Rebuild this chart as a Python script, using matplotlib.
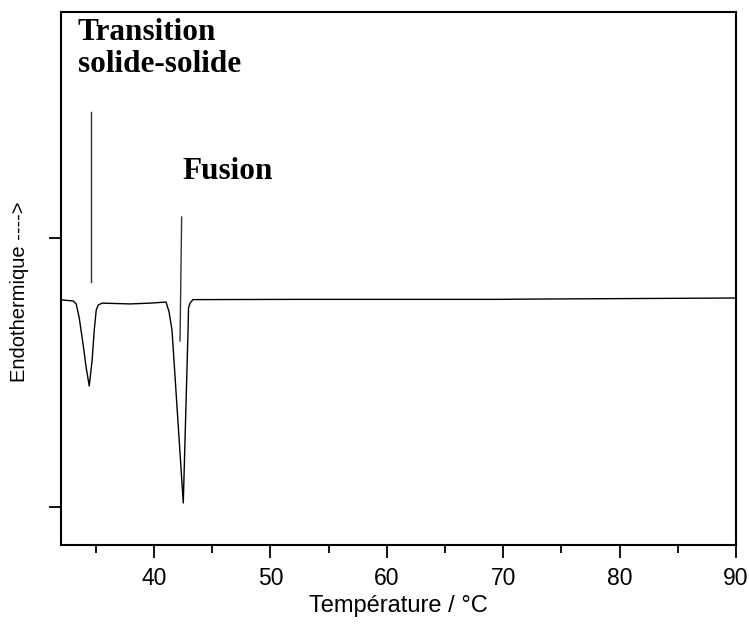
import matplotlib
matplotlib.use("Agg")
import matplotlib.pyplot as plt
from matplotlib.ticker import MultipleLocator, NullFormatter

# DSC trace (temperature in °C, heat flow in arbitrary units)
temp = [32.02, 33.05, 33.31, 33.57, 33.91, 34.17, 34.43, 34.68, 34.86, 35.03,
        35.20, 35.54, 37.94, 39.66, 41.03, 41.29, 41.54, 42.51, 42.92, 42.96,
        43.09, 43.34, 52.52, 69.67, 72.30, 89.91]
flow = [0.770, 0.766, 0.755, 0.703, 0.602, 0.517, 0.450, 0.547, 0.658, 0.732,
        0.751, 0.758, 0.755, 0.758, 0.762, 0.725, 0.658, 0.015, 0.658, 0.740,
        0.758, 0.771, 0.772, 0.772, 0.773, 0.777]

# vertical markers for each transition: (temp bottom, temp top, y bottom, y top)
spike_solid = [34.57, 34.57, 0.836, 1.468]
spike_fusion = [42.23, 42.37, 0.617, 1.078]

labels = ["Transition\nsolide-solide", "Fusion"]

sans = ["Liberation Sans Narrow", "Liberation Sans", "DejaVu Sans"]
serif = ["Liberation Serif", "DejaVu Serif"]

fig = plt.figure(figsize=(7.49, 6.26), dpi=100)
ax = fig.add_axes([0.0814, 0.1294, 0.9012, 0.8514])

ax.plot(temp, flow, color="black", lw=1.0)
ax.plot(spike_solid[:2], spike_solid[2:], color="#333333", lw=1.0)
ax.plot(spike_fusion[:2], spike_fusion[2:], color="#333333", lw=1.0)

ax.set_xlim(32.0, 90)
ax.set_ylim(-0.141, 1.840)

ax.xaxis.set_major_locator(MultipleLocator(10))
ax.xaxis.set_minor_locator(MultipleLocator(5))
ax.set_yticks([0, 1])
ax.yaxis.set_major_formatter(NullFormatter())
ax.tick_params(axis="both", which="major", direction="out", length=9, width=1.3)
ax.tick_params(axis="x", which="minor", direction="out", length=6, width=1.3)
ax.tick_params(axis="x", labelsize=16.5, pad=7)
for lab in ax.get_xticklabels():
    lab.set_family(sans)

for s in ax.spines.values():
    s.set_linewidth(1.5)

ax.set_xlabel("Température / °C", family=sans, fontsize=17)
ax.xaxis.set_label_coords(0.5, -0.093)
ax.set_ylabel("Endothermique ---->", family=sans, fontsize=14.5)
ax.yaxis.set_label_coords(-0.047, 0.475)

ax.text(33.45, 1.818, labels[0], family=serif, weight="bold", fontsize=22.5,
        va="top", ha="left", linespacing=1.12)
ax.text(42.45, 1.22, labels[1], family=serif, weight="bold", fontsize=22.5,
        va="baseline", ha="left")

fig.savefig("out.png", dpi=100)
